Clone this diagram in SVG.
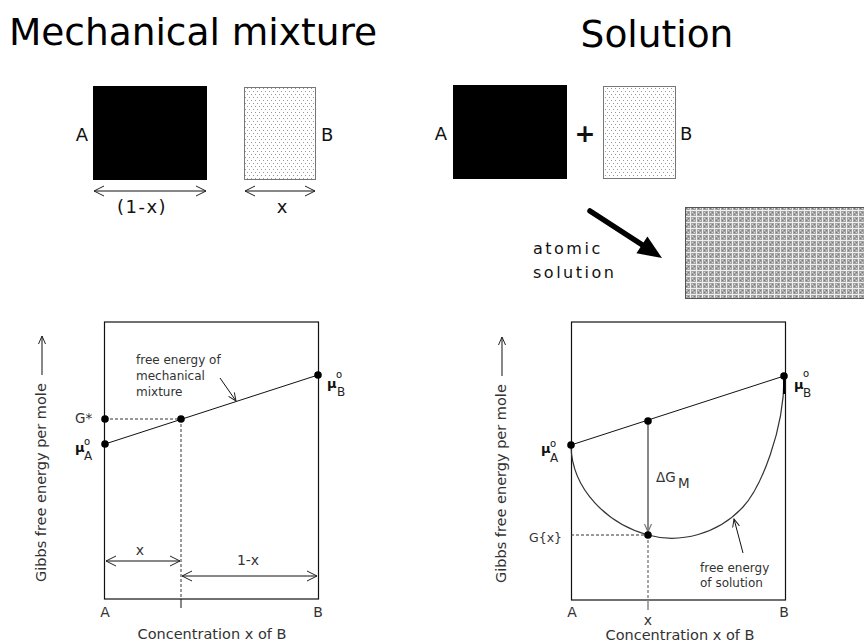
<svg xmlns="http://www.w3.org/2000/svg" width="864" height="642" viewBox="0 0 864 642">
<style>
.title{font-family:"DejaVu Sans",sans-serif;font-size:37.5px;fill:#000}
.lbl{font-family:"DejaVu Sans",sans-serif;font-size:18px;fill:#111}
.sm{font-family:"DejaVu Sans",sans-serif;font-size:14px;fill:#333}
.xs{font-family:"DejaVu Sans",sans-serif;font-size:12px;fill:#333}
.mu{font-family:"DejaVu Sans",sans-serif;font-size:13px;font-weight:bold;fill:#111}
.sup{font-family:"DejaVu Sans",sans-serif;font-size:10px;fill:#111}
.sub{font-family:"DejaVu Sans",sans-serif;font-size:12px;fill:#222}
.ln{stroke:#111;stroke-width:1;fill:none}
.dash{stroke:#333;stroke-width:1;stroke-dasharray:3,2;fill:none}
.frame{stroke:#111;stroke-width:1.2;fill:none}
.dot{fill:#000}
</style>
<defs>
<pattern id="dots" x="0" y="0" width="4" height="6" patternUnits="userSpaceOnUse">
<rect width="4" height="6" fill="#fff"/>
<rect x="1" y="1" width="1" height="1" fill="#999"/>
<rect x="3" y="4" width="1" height="1" fill="#999"/>
</pattern>
<pattern id="grid" x="0" y="0" width="6" height="6" patternUnits="userSpaceOnUse">
<rect width="6" height="6" fill="#a4a4a4"/>
<rect x="0" y="0" width="6" height="1" fill="#eeeeee"/>
<rect x="0" y="0" width="1" height="6" fill="#eeeeee"/>
<rect x="2" y="2" width="1" height="1" fill="#d4d4d4"/>
<rect x="4" y="4" width="1" height="1" fill="#d4d4d4"/>
<rect x="4" y="2" width="1" height="1" fill="#7a7a7a"/>
<rect x="2" y="4" width="1" height="1" fill="#7a7a7a"/>
</pattern>
<marker id="chev" markerUnits="userSpaceOnUse" markerWidth="12" markerHeight="12" refX="10" refY="5" orient="auto-start-reverse" viewBox="0 0 12 10">
<path d="M0,0 L10,5 L0,10" fill="none" stroke="#222" stroke-width="1"/>
</marker>
<marker id="chevs" markerUnits="userSpaceOnUse" markerWidth="9" markerHeight="8" refX="8" refY="3.5" orient="auto" viewBox="0 0 9 7">
<path d="M0,0 L8,3.5 L0,7" fill="none" stroke="#222" stroke-width="1"/>
</marker>
<marker id="chevg" markerUnits="userSpaceOnUse" markerWidth="9" markerHeight="8" refX="8" refY="3.5" orient="auto" viewBox="0 0 9 7">
<path d="M0,0 L8,3.5 L0,7" fill="none" stroke="#777" stroke-width="1.2"/>
</marker>
</defs>

<rect width="864" height="642" fill="#fff"/>

<g id="titles">
<text class="title" x="193" y="45" text-anchor="middle">Mechanical mixture</text>
<text class="title" x="657" y="47" text-anchor="middle">Solution</text>
</g>

<g id="mech-A">
<rect x="93" y="86" width="114" height="94" fill="#000"/>
<text class="lbl" x="88" y="141" text-anchor="end">A</text>
</g>
<g id="mech-B">
<rect x="244.5" y="87.5" width="71" height="92" fill="url(#dots)" stroke="#777" stroke-width="1"/>
<text class="lbl" x="321" y="141">B</text>
</g>
<g id="mech-dims">
<text class="lbl" x="142" y="213" text-anchor="middle" letter-spacing="1.5">(1-x)</text>
<text class="lbl" x="282" y="213" text-anchor="middle">x</text>
</g>

<g id="sol-A">
<rect x="453" y="85" width="114" height="94" fill="#000"/>
<text class="lbl" x="447" y="140" text-anchor="end">A</text>
</g>
<text class="lbl" x="585" y="142" text-anchor="middle" style="font-size:25px;font-weight:bold">+</text>
<g id="sol-B">
<rect x="603.5" y="86.5" width="72" height="92" fill="url(#dots)" stroke="#777" stroke-width="1"/>
<text class="lbl" x="680" y="140">B</text>
</g>
<g id="atomic-solution">
<rect x="685.5" y="207.5" width="180" height="91" fill="url(#grid)" stroke="#555" stroke-width="1"/>
<text class="lbl" x="533" y="254" style="font-size:16px" letter-spacing="2.5">atomic</text>
<text class="lbl" x="533" y="278" style="font-size:16px" letter-spacing="2.5">solution</text>
</g>

<!-- Left graph -->
<g id="graph-left">
<rect class="frame" x="104.5" y="322" width="214" height="277"/>
<text class="sm" style="font-size:14.5px" transform="translate(46,582) rotate(-90)">Gibbs free energy per mole</text>
<text class="sm" x="105" y="617" text-anchor="middle">A</text>
<text class="sm" x="318" y="617" text-anchor="middle">B</text>
<text class="sm" style="font-size:14.5px" x="212" y="639" text-anchor="middle">Concentration x of B</text>
<text class="sm" x="140" y="555" text-anchor="middle">x</text>
<text class="sm" x="248" y="565" text-anchor="middle">1-x</text>
<text class="xs" x="136" y="364">free energy of</text>
<text class="xs" x="136" y="380">mechanical</text>
<text class="xs" x="136" y="396">mixture</text>
<text class="sm" x="75" y="423" style="font-size:13.5px">G*</text>
<text class="mu" x="75" y="452">μ</text>
<text class="sup" x="84" y="445">o</text>
<text class="sub" x="84" y="460">A</text>
<text class="mu" x="327" y="388">μ</text>
<text class="sup" x="336" y="378">o</text>
<text class="sub" x="337" y="396">B</text>
</g>

<!-- Right graph -->
<g id="graph-right">
<rect class="frame" x="571.5" y="322" width="214" height="278"/>
<text class="sm" style="font-size:14.5px" transform="translate(506,583) rotate(-90)">Gibbs free energy per mole</text>
<text class="sm" x="572" y="617" text-anchor="middle">A</text>
<text class="sm" x="784" y="617" text-anchor="middle">B</text>
<text class="sm" x="648" y="625" text-anchor="middle">x</text>
<text class="sm" style="font-size:14.5px" x="680" y="639.5" text-anchor="middle">Concentration x of B</text>
<text class="sm" x="656" y="482" style="font-size:13.5px">ΔG</text>
<text class="sm" x="678" y="488" style="font-size:13.5px">M</text>
<text class="sm" x="562" y="542" style="font-size:12.5px" text-anchor="end">G{x}</text>
<text class="xs" x="700" y="572">free energy</text>
<text class="xs" x="700" y="587">of solution</text>
<text class="mu" x="541" y="453">μ</text>
<text class="sup" x="550" y="447">o</text>
<text class="sub" x="550" y="462">A</text>
<text class="mu" x="794" y="389">μ</text>
<text class="sup" x="803" y="377">o</text>
<text class="sub" x="803" y="397">B</text>
</g>

<g id="connectors">
<line class="ln" x1="94" y1="191" x2="206" y2="191" marker-start="url(#chev)" marker-end="url(#chev)"/>
<line class="ln" x1="245" y1="191" x2="315" y2="191" marker-start="url(#chev)" marker-end="url(#chev)"/>
<line x1="590" y1="211" x2="644" y2="246" stroke="#000" stroke-width="5.5" stroke-linecap="round"/>
<polygon points="662,258 636.4,253.3 647.4,236.5" fill="#000"/>
<line class="ln" x1="42" y1="375" x2="42" y2="336" marker-end="url(#chevs)"/>
<line class="ln" x1="502" y1="376" x2="502" y2="337" marker-end="url(#chevs)"/>
<line class="ln" x1="105" y1="444" x2="318" y2="375"/>
<line class="dash" x1="105" y1="419" x2="181" y2="419"/>
<line class="dash" x1="181" y1="419" x2="181" y2="599"/>
<line class="ln" x1="181" y1="599" x2="181" y2="608"/>
<line class="ln" x1="106" y1="561" x2="180" y2="561" marker-start="url(#chev)" marker-end="url(#chev)"/>
<line class="ln" x1="182" y1="576" x2="317" y2="576" marker-start="url(#chev)" marker-end="url(#chev)"/>
<line class="ln" x1="220" y1="378" x2="236" y2="401" marker-end="url(#chevs)"/>
<circle class="dot" cx="105" cy="444" r="3.8"/>
<circle class="dot" cx="105" cy="419" r="3.8"/>
<circle class="dot" cx="181" cy="419" r="3.8"/>
<circle class="dot" cx="318" cy="375" r="3.8"/>
<line class="ln" x1="571" y1="445" x2="784" y2="376"/>
<path d="M571,446 C572,490 608,524 648,535 C680,544 718,534 743,507 C761,487.5 784,430 784,378" fill="none" stroke="#333" stroke-width="1.2"/>
<line x1="784" y1="378" x2="784" y2="394" stroke="#000" stroke-width="2"/>
<line x1="648" y1="421" x2="648" y2="532" stroke="#888" stroke-width="2" marker-end="url(#chevg)"/>
<line class="dash" x1="571" y1="535" x2="648" y2="535"/>
<line x1="648" y1="535" x2="648" y2="600" stroke="#888" stroke-width="1.5" stroke-dasharray="3,2"/>
<line x1="648" y1="600" x2="648" y2="610" stroke="#888" stroke-width="1.5"/>
<line class="ln" x1="743" y1="553" x2="734" y2="519" marker-end="url(#chevs)"/>
<circle class="dot" cx="571" cy="445" r="3.8"/>
<circle class="dot" cx="648" cy="421" r="3.8"/>
<circle class="dot" cx="784" cy="376" r="3.8"/>
<circle class="dot" cx="648" cy="535" r="3.8"/>
</g>
</svg>
